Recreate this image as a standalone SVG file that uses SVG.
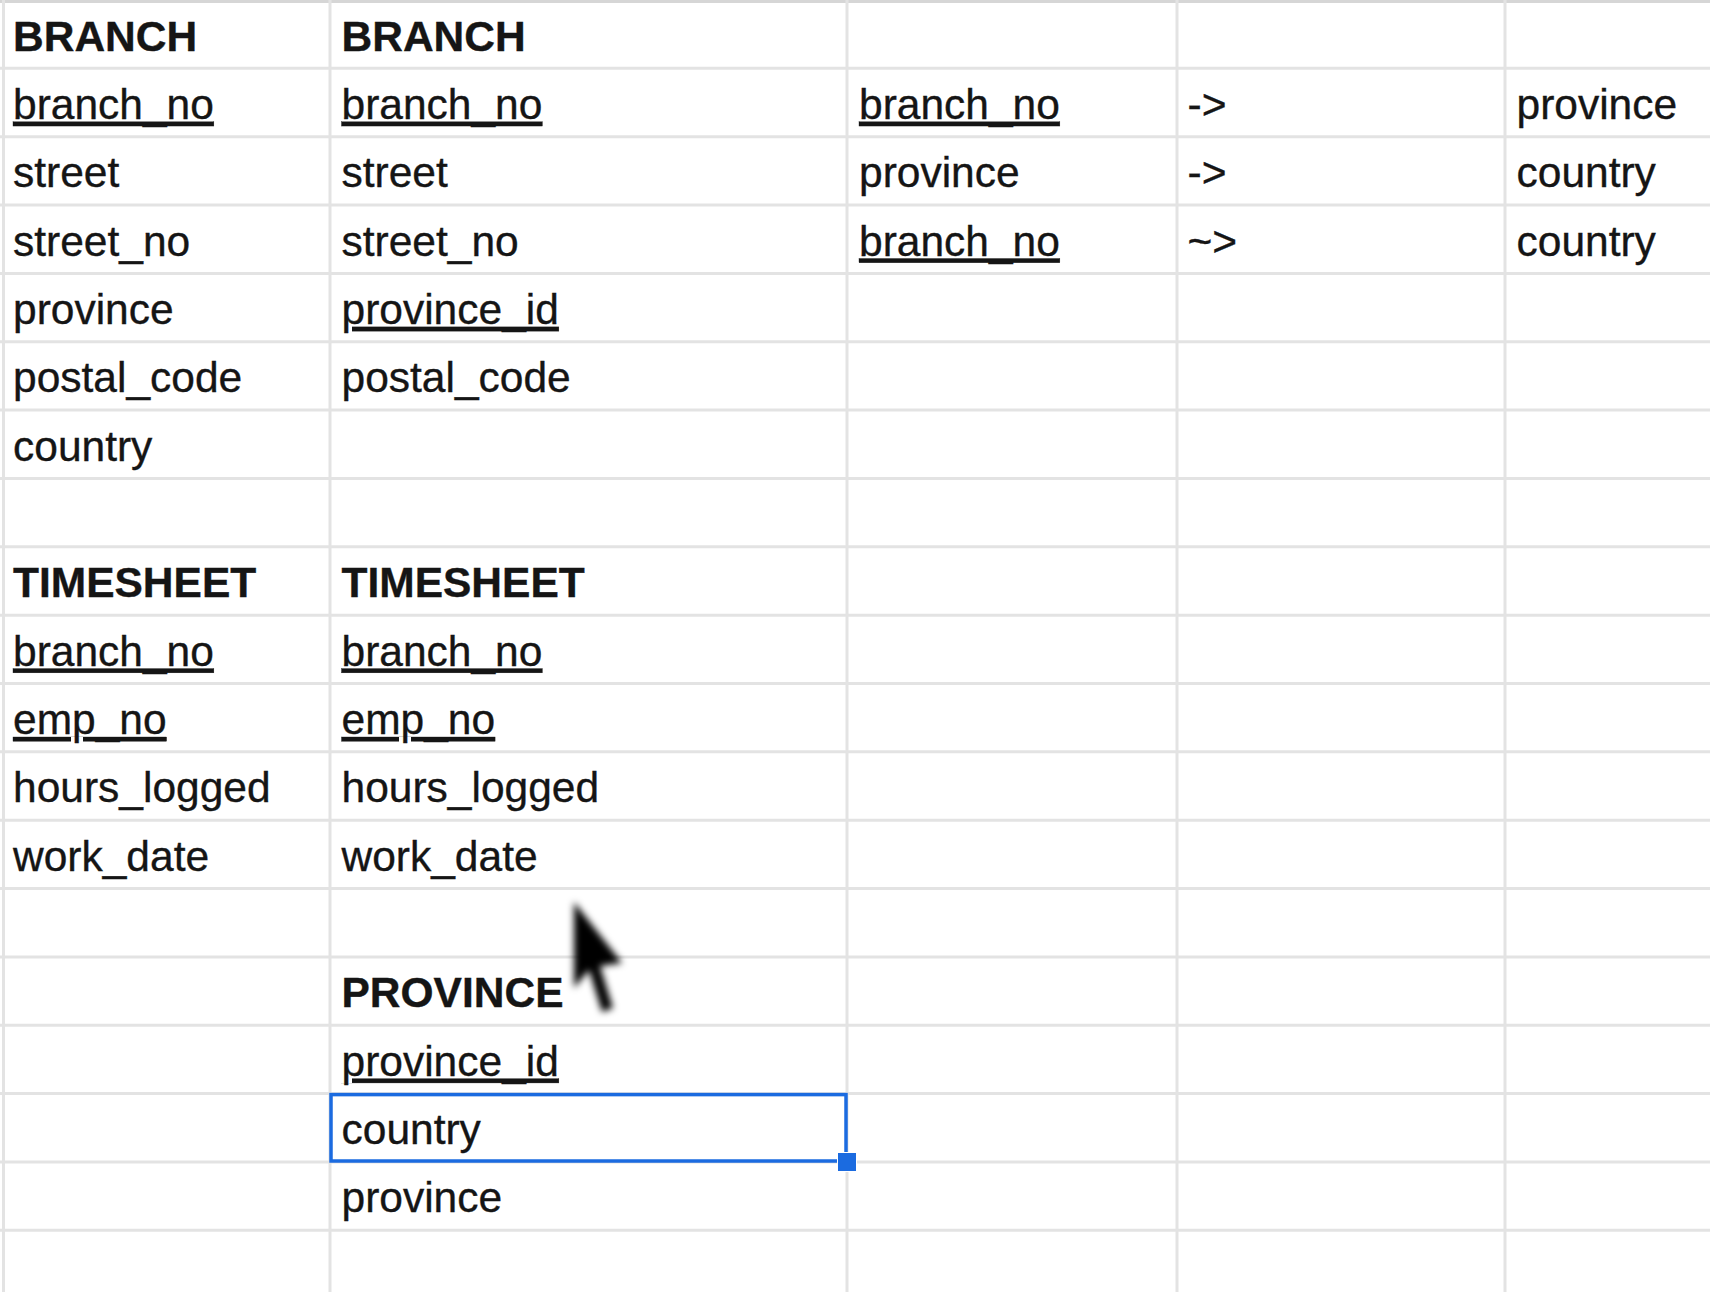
<svg xmlns="http://www.w3.org/2000/svg" width="1710" height="1292" viewBox="0 0 1710 1292">
<defs>
<style>
.g{stroke:#e3e3e3;stroke-width:3;fill:none}
.t{font-family:"Liberation Sans",Arial,sans-serif;font-size:42.5px;fill:#151515;stroke:#151515;stroke-width:0.35}
.b{font-weight:bold}
.u{text-decoration:underline}
</style>
<filter id="blur" x="-50%" y="-50%" width="200%" height="200%"><feGaussianBlur stdDeviation="3.8"/></filter>
</defs>
<rect width="1710" height="1292" fill="#ffffff"/>
<g id="grid" class="g">
<line x1="0" y1="1.5" x2="1710" y2="1.5" stroke="#d6d6d6"/>
<line x1="3.5" y1="0" x2="3.5" y2="1292"/>
<line x1="330" y1="0" x2="330" y2="1292"/>
<line x1="847" y1="0" x2="847" y2="1292"/>
<line x1="1177" y1="0" x2="1177" y2="1292"/>
<line x1="1505" y1="0" x2="1505" y2="1292"/>
<line x1="0" y1="68.35" x2="1710" y2="68.35"/>
<line x1="0" y1="136.7" x2="1710" y2="136.7"/>
<line x1="0" y1="205.05" x2="1710" y2="205.05"/>
<line x1="0" y1="273.4" x2="1710" y2="273.4"/>
<line x1="0" y1="341.75" x2="1710" y2="341.75"/>
<line x1="0" y1="410.1" x2="1710" y2="410.1"/>
<line x1="0" y1="478.45" x2="1710" y2="478.45"/>
<line x1="0" y1="546.8" x2="1710" y2="546.8"/>
<line x1="0" y1="615.15" x2="1710" y2="615.15"/>
<line x1="0" y1="683.5" x2="1710" y2="683.5"/>
<line x1="0" y1="751.85" x2="1710" y2="751.85"/>
<line x1="0" y1="820.2" x2="1710" y2="820.2"/>
<line x1="0" y1="888.55" x2="1710" y2="888.55"/>
<line x1="0" y1="956.9" x2="1710" y2="956.9"/>
<line x1="0" y1="1025.25" x2="1710" y2="1025.25"/>
<line x1="0" y1="1093.6" x2="1710" y2="1093.6"/>
<line x1="0" y1="1161.95" x2="1710" y2="1161.95"/>
<line x1="0" y1="1230.3" x2="1710" y2="1230.3"/>
</g>
<g id="branch-original" class="t">
<text x="13" y="50.5" class="b">BRANCH</text>
<text x="13" y="118.8" class="u">branch_no</text>
<text x="13" y="187.2">street</text>
<text x="13" y="255.5">street_no</text>
<text x="13" y="323.9">province</text>
<text x="13" y="392.2">postal_code</text>
<text x="13" y="460.6">country</text>
</g>
<g id="timesheet-original" class="t">
<text x="13" y="597.3" class="b">TIMESHEET</text>
<text x="13" y="665.6" class="u">branch_no</text>
<text x="13" y="734" class="u">emp_no</text>
<text x="13" y="802.3">hours_logged</text>
<text x="13" y="870.7">work_date</text>
</g>
<g id="branch-normalised" class="t">
<text x="341.5" y="50.5" class="b">BRANCH</text>
<text x="341.5" y="118.8" class="u">branch_no</text>
<text x="341.5" y="187.2">street</text>
<text x="341.5" y="255.5">street_no</text>
<text x="341.5" y="323.9" class="u">province_id</text>
<text x="341.5" y="392.2">postal_code</text>
</g>
<g id="timesheet-normalised" class="t">
<text x="341.5" y="597.3" class="b">TIMESHEET</text>
<text x="341.5" y="665.6" class="u">branch_no</text>
<text x="341.5" y="734" class="u">emp_no</text>
<text x="341.5" y="802.3">hours_logged</text>
<text x="341.5" y="870.7">work_date</text>
</g>
<g id="province" class="t">
<text x="341.5" y="1007.4" class="b">PROVINCE</text>
<text x="341.5" y="1075.7" class="u">province_id</text>
<text x="341.5" y="1144.1">country</text>
<text x="341.5" y="1212.4">province</text>
</g>
<g id="dependencies" class="t">
<text x="859" y="118.8" class="u">branch_no</text>
<text x="1187.5" y="118.8">-&gt;</text>
<text x="1516.5" y="118.8">province</text>
<text x="859" y="187.2">province</text>
<text x="1187.5" y="187.2">-&gt;</text>
<text x="1516.5" y="187.2">country</text>
<text x="859" y="255.5" class="u">branch_no</text>
<text x="1187.5" y="255.5">~&gt;</text>
<text x="1516.5" y="255.5">country</text>
</g>
<g id="selection">
<rect x="331" y="1094.6" width="515" height="66.4" fill="none" stroke="#1b6be0" stroke-width="3.5"/>
<rect x="837.5" y="1152.5" width="19" height="19" fill="#1b6be0" stroke="#ffffff" stroke-width="1"/>
</g>
<g id="cursor" filter="url(#blur)">
<polygon points="574,902 574,988 589,970 602,1012 613,1008 600,966 622,963" fill="#000000"/>
</g>
</svg>
